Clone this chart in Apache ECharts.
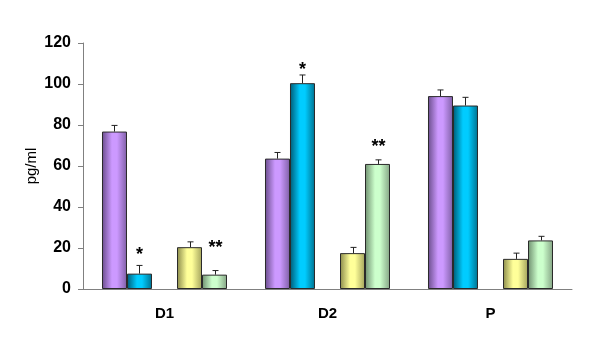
<!DOCTYPE html>
<html>
<head>
<meta charset="utf-8">
<script src="https://cdn.jsdelivr.net/npm/echarts@6/dist/echarts.min.js"></script>
<style>
  html, body { margin: 0; padding: 0; background: #fff; }
  #chart { width: 600px; height: 341px; }
</style>
</head>
<body>
<div id="chart"></div>
<script>
// categories and values
const categories = ['D1', 'D2', 'P'];
const purple = [76.8, 63.6, 94.1];
const blue = [7.5, 100.4, 89.5];
const yellow = [20.4, 17.5, 14.7];
const green = [7.0, 61.0, 23.7];

// error bar sizes (upper only)
const purpleErr = [3, 3, 3];
const blueErr = [4, 4, 4];
const yellowErr = [2.6, 2.8, 2.8];
const greenErr = [2, 2, 2];

// significance marks and the height they sit at
const blueMarks = ['*', '*', ''];
const blueMarkY = [18.7, 108.9, 0];
const greenMarks = ['**', '**', ''];
const greenMarkY = [21.7, 71.4, 0];

const yTicks = [0, 20, 40, 60, 80, 100, 120];

const CAT_GAP = 0.233;
const SLOTS = 5;

function grad(dark, light, mid) {
  return new echarts.graphic.LinearGradient(0, 0, 1, 0, [
    { offset: 0, color: dark },
    { offset: 0.4, color: light },
    { offset: 0.6, color: light },
    { offset: 1, color: mid }
  ]);
}

function barSeries(name, data, color) {
  return {
    name: name,
    type: 'bar',
    data: data,
    barGap: 0,
    barCategoryGap: (CAT_GAP * 100) + '%',
    itemStyle: { color: color, borderColor: '#2a2a2a', borderWidth: 1 },
    silent: true
  };
}

// slot index 0..4, slot 2 is the empty gap
const errData = [];
const groups = [
  [purple, purpleErr, 0, null, null],
  [blue, blueErr, 1, blueMarks, blueMarkY],
  [yellow, yellowErr, 3, null, null],
  [green, greenErr, 4, greenMarks, greenMarkY]
];
groups.forEach(function (g) {
  categories.forEach(function (c, i) {
    errData.push([i, g[0][i], g[1][i], g[2], g[3] ? g[3][i] : '', g[4] ? g[4][i] : 0]);
  });
});

function renderErr(params, api) {
  const cat = api.value(0);
  const val = api.value(1);
  const err = api.value(2);
  const slot = api.value(3);
  const mark = errData[params.dataIndex][4];
  const markY = api.value(5);
  const bw = api.size([1, 0])[0] * (1 - CAT_GAP) / SLOTS;
  const base = api.coord([cat, val]);
  const top = api.coord([cat, val + err]);
  const x = Math.round(base[0] + (slot - 2) * bw) + 0.5;
  const st = { stroke: '#222', lineWidth: 1 };
  const children = [
    { type: 'line', shape: { x1: x, y1: base[1], x2: x, y2: top[1] }, style: st },
    { type: 'line', shape: { x1: x - 3, y1: top[1], x2: x + 3, y2: top[1] }, style: st }
  ];
  if (mark) {
    const my = api.coord([cat, markY])[1];
    children.push({
      type: 'text',
      style: {
        x: x, y: my - 5,
        text: mark,
        fill: '#000',
        font: 'bold 18px "Liberation Sans", Arial, sans-serif',
        align: 'center',
        verticalAlign: 'top'
      }
    });
  }
  return { type: 'group', children: children };
}

const chart = echarts.init(document.getElementById('chart'));
chart.setOption({
  animation: false,
  backgroundColor: '#fff',
  grid: { left: 83, right: 28, top: 43, bottom: 52 },
  xAxis: {
    type: 'category',
    data: categories,
    axisLine: { lineStyle: { color: '#808080', width: 1 } },
    axisTick: { length: 5, lineStyle: { color: '#808080' } },
    axisLabel: {
      color: '#000',
      fontWeight: 'bold',
      fontSize: 15,
      fontFamily: '"Liberation Sans", Arial, sans-serif',
      margin: 17
    }
  },
  yAxis: {
    type: 'value',
    min: yTicks[0],
    max: yTicks[yTicks.length - 1],
    interval: 20,
    name: 'pg/ml',
    nameLocation: 'middle',
    nameGap: 44,
    nameMoveOverlap: false,
    nameTextStyle: {
      color: '#000',
      fontSize: 15,
      fontFamily: '"Liberation Sans", Arial, sans-serif'
    },
    axisLine: { show: true, lineStyle: { color: '#808080', width: 1 } },
    axisTick: { show: true, length: 5, lineStyle: { color: '#808080' } },
    splitLine: { show: false },
    axisLabel: {
      color: '#000',
      fontWeight: 'bold',
      fontSize: 16,
      fontFamily: '"Liberation Sans", Arial, sans-serif',
      margin: 12
    }
  },
  series: [
    barSeries('purple', purple, grad('#6a4d8c', '#cc99ff', '#7f5fa6')),
    barSeries('blue', blue, grad('#005a75', '#00ccff', '#00718f')),
    barSeries('gap', categories.map(function () { return null; }), '#fff'),
    barSeries('yellow', yellow, grad('#8a8a4a', '#ffff99', '#a3a35c')),
    barSeries('green', green, grad('#6f8f6f', '#ccffcc', '#84a384')),
    {
      type: 'custom',
      renderItem: renderErr,
      data: errData,
      encode: { x: 0, y: 1 },
      silent: true,
      z: 5
    }
  ]
});
</script>
</body>
</html>
